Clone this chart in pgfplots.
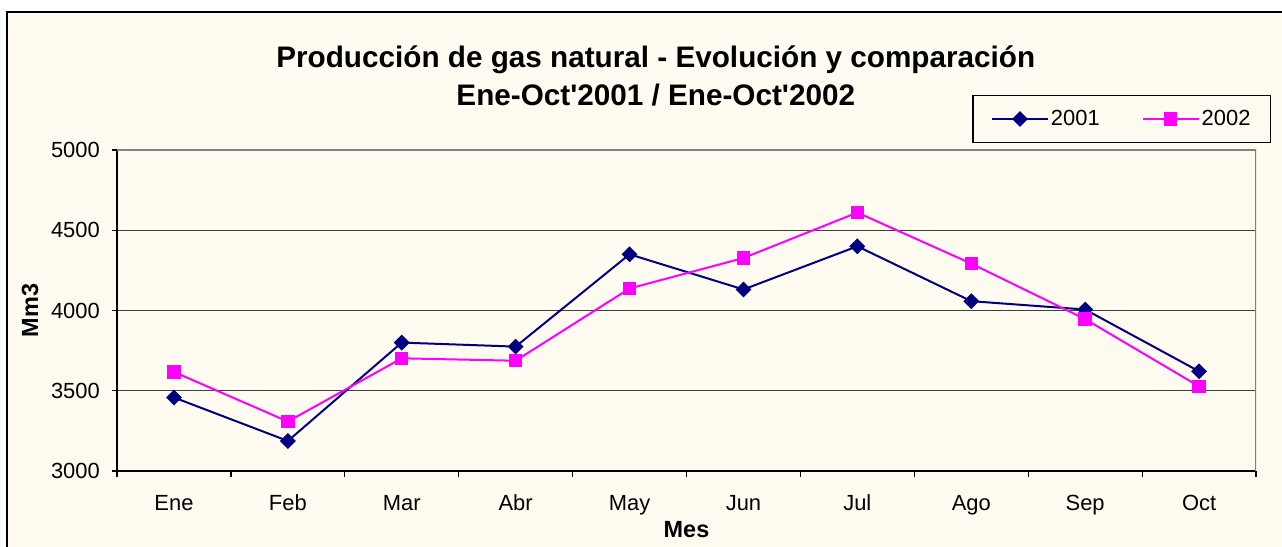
\documentclass[border=0pt]{standalone}
\usepackage{fontspec}
\setmainfont{Liberation Sans}
\usepackage{pgfplots}
\usepackage{pgfplotstable}
\pgfplotsset{compat=1.18}

\definecolor{cream}{RGB}{255,251,240}
\definecolor{navy2001}{RGB}{0,0,128}
\definecolor{mag2002}{RGB}{255,0,255}

% produccion mensual, Mm3
\pgfplotstableread{
mes y2001 y2002
1  3458 3617
2  3187 3308
3  3800 3702
4  3775 3687
5  4350 4137
6  4131 4327
7  4400 4610
8  4058 4292
9  4006 3946
10 3621 3527
}\gasdata

\begin{document}
\begin{tikzpicture}[x=1bp,y=1bp]
\useasboundingbox (0,0) rectangle (1282,547);
\fill[white] (0,0) rectangle (1282,547);
\fill[cream] (7,0) rectangle (1282,535);
\draw[line width=2bp] (7,-5) -- (7,535) -- (1290,535);
\begin{axis}[
    at={(117bp,76bp)}, anchor=south west,
    scale only axis,
    width=1139bp, height=321bp,
    xmin=0.5, xmax=10.5,
    ymin=3000, ymax=5000,
    xtick={1,...,10},
    xticklabels={Ene,Feb,Mar,Abr,May,Jun,Jul,Ago,Sep,Oct},
    minor xtick={0.5,1.5,...,10.5},
    ytick={3000,3500,...,5000},
    ymajorgrids,
    major grid style={black!75, line width=1bp},
    axis x line*=bottom, axis y line*=left,
    axis line style={black, line width=1.5bp},
    tick align=outside,
    major x tick style={draw=none},
    minor x tick style={black, line width=1.2bp},
    ytick style={black, line width=1.2bp},
    minor tick length=6bp,
    major tick length=5bp,
    /pgf/number format/assume math mode=true,
    /pgf/number format/set thousands separator={},
    tick label style={font=\fontsize{22}{26}\selectfont},
    xticklabel style={anchor=base, inner sep=0pt, yshift=-35bp},
    yticklabel style={anchor=east, inner sep=0pt, xshift=-12bp},
    title={Producción de gas natural - Evolución y comparación\\Ene-Oct\textquotesingle 2001 / Ene-Oct\textquotesingle 2002},
    title style={at={(axis description cs:0.473,1.212)}, anchor=center, align=center,
        font=\bfseries\fontsize{29.8}{39}\selectfont},
    xlabel={Mes},
    xlabel style={at={(axis description cs:0.5,-0.1838)}, anchor=center,
        font=\bfseries\fontsize{23.5}{28}\selectfont},
    ylabel={Mm3},
    ylabel style={at={(axis description cs:-0.0764,0.5)}, anchor=center, rotate=0,
        font=\bfseries\fontsize{23.5}{28}\selectfont},
    legend columns=2,
    legend style={at={(axis description cs:1.0132,1.1713)}, anchor=north east,
        draw=black, line width=1.2bp, fill=cream,
        font=\fontsize{22}{26}\selectfont,
        inner xsep=18bp, inner ysep=13bp,
        /tikz/every even column/.append style={column sep=40bp}},
    legend image code/.code={
        \draw[mark repeat=2, mark phase=2, #1]
            plot coordinates {(0bp,0bp) (28bp,0bp) (56bp,0bp)};},
]
\addplot[navy2001, line width=2bp, mark=square*, mark size=4.6bp,
    mark options={solid, rotate=45}]
    table[x=mes, y=y2001] {\gasdata};
\addlegendentry{2001}
\addplot[mag2002, line width=2bp, mark=square*, mark size=5.7bp,
    mark options={solid}]
    table[x=mes, y=y2002] {\gasdata};
\addlegendentry{2002}
\draw[black!50, line width=2bp] (rel axis cs:0,1) -- (rel axis cs:1,1) -- (rel axis cs:1,0);
\end{axis}
\end{tikzpicture}
\end{document}
